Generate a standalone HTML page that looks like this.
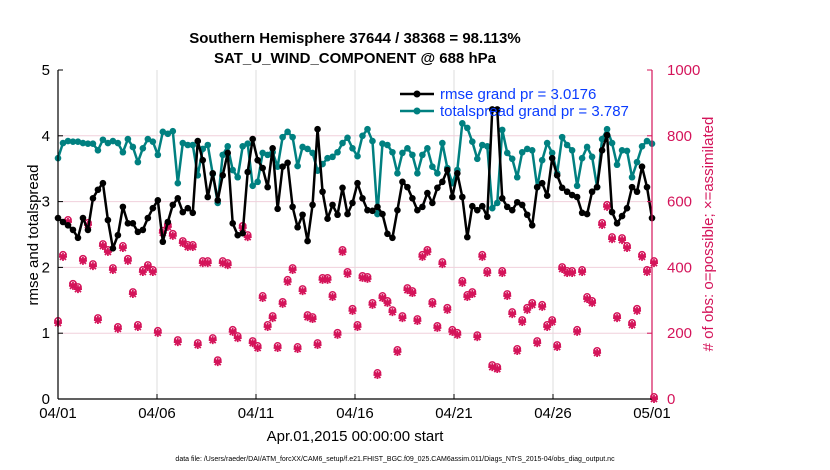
<!DOCTYPE html>
<html><head><meta charset="utf-8">
<style>
body{margin:0;background:#fff;width:830px;height:470px;overflow:hidden;font-family:"Liberation Sans",sans-serif;}
svg{display:block}
</style></head>
<body>
<svg id="chart" width="830" height="470" xmlns="http://www.w3.org/2000/svg">
<text x="355" y="43" text-anchor="middle" font-size="15" font-weight="bold">Southern Hemisphere 37644 / 38368 = 98.113%</text>
<text x="355" y="63" text-anchor="middle" font-size="15" font-weight="bold">SAT_U_WIND_COMPONENT @ 688 hPa</text>
<g id="grid"></g>
<g id="obs"></g>
<g id="lines"></g>
<g id="axes"></g>
<g>
<g>
<line x1="400" y1="94" x2="434" y2="94" stroke="#000" stroke-width="2.5"/>
<circle cx="417" cy="94" r="3.5" fill="#000"/>
<text x="440" y="99" font-size="15" fill="#0a3cff">rmse grand pr = 3.0176</text></g>
<g>
<line x1="400" y1="111" x2="434" y2="111" stroke="#008080" stroke-width="2.5"/>
<circle cx="417" cy="111" r="3.5" fill="#008080"/>
<text x="440" y="116" font-size="15" fill="#0a3cff">totalspread grand pr = 3.787</text></g>
</g>
<text transform="translate(38,235) rotate(-90)" text-anchor="middle" font-size="15">rmse and totalspread</text>
<text transform="translate(713,234) rotate(-90)" text-anchor="middle" font-size="15" fill="#d4145a"># of obs: o=possible; ×=assimilated</text>
<text x="355" y="441" text-anchor="middle" font-size="15">Apr.01,2015 00:00:00 start</text>
<text x="395" y="461" text-anchor="middle" font-size="7">data file: /Users/raeder/DAI/ATM_forcXX/CAM6_setup/f.e21.FHIST_BGC.f09_025.CAM6assim.011/Diags_NTrS_2015-04/obs_diag_output.nc</text>
</svg>
<script>
const xTickLabels = ["04/01","04/06","04/11","04/16","04/21","04/26","05/01"];
const xTickDays = [0,5,10,15,20,25,30];
const leftTicks = [0,1,2,3,4,5];
const rightTicks = [0,200,400,600,800,1000];
const rmse = [2.75,2.69,2.64,2.57,2.45,2.75,2.57,3.05,3.18,3.28,2.72,2.29,2.49,2.92,2.67,2.67,2.54,2.57,2.75,2.90,3.02,2.39,2.69,2.95,3.05,2.84,2.90,2.83,3.92,3.63,3.07,3.43,3.02,3.40,3.74,2.67,2.49,2.52,3.45,3.95,3.63,
3.51,3.22,3.81,2.89,3.53,3.59,2.92,2.61,2.80,2.40,2.95,4.10,3.15,2.74,2.95,2.80,3.21,2.81,2.98,3.28,3.05,2.87,2.86,2.92,2.81,2.51,2.45,2.87,3.30,3.22,3.05,2.87,2.92,3.13,2.98,3.21,3.30,3.48,3.07,
3.43,3.07,2.46,2.93,2.87,2.93,2.77,4.40,4.40,3.05,2.92,2.87,2.99,2.95,2.80,2.64,3.22,3.28,3.09,3.66,3.40,3.21,3.15,3.10,3.07,2.83,2.81,3.15,3.22,3.78,4.01,2.84,2.67,2.78,2.90,3.22,3.15,3.53,3.22,2.75];
const totalspread = [3.66,3.89,3.92,3.91,3.91,3.89,3.88,3.88,3.78,3.94,3.89,3.92,3.89,3.75,3.95,3.83,3.60,3.81,3.95,3.91,3.71,4.06,4.03,4.07,3.28,3.89,3.86,3.86,3.40,3.80,3.86,3.42,2.98,3.71,3.84,3.48,3.37,3.84,3.88,3.24,3.30,
3.74,3.71,3.75,3.53,3.98,4.06,3.98,3.54,3.83,3.80,3.74,3.47,3.57,3.66,3.68,3.75,3.89,3.97,3.81,3.69,4.00,4.10,3.92,2.81,3.88,3.86,3.75,3.43,3.74,3.81,3.71,3.43,3.71,3.81,3.53,3.43,3.89,3.51,3.28,
3.48,4.19,4.12,3.91,3.65,3.86,3.84,2.90,2.98,4.09,3.74,3.65,3.37,3.75,3.80,3.78,3.22,3.63,3.89,3.74,3.43,3.98,3.86,3.78,3.24,3.66,3.83,3.68,3.22,3.95,4.10,3.89,3.56,3.78,3.77,3.37,3.60,3.84,3.92,3.88];
const obsCount = [231,432,538,344,334,420,529,404,240,465,447,392,213,459,420,319,219,386,401,386,201,505,523,496,173,474,462,462,164,413,413,179,112,413,407,204,185,520,492,170,155,
307,219,246,155,289,356,392,152,328,249,243,164,362,362,310,195,447,380,268,219,368,365,286,73,307,292,264,143,246,331,322,237,432,447,289,216,410,271,204,
195,353,310,319,188,432,383,97,91,383,313,258,146,234,271,286,170,280,219,234,158,395,383,383,204,386,304,292,140,529,584,486,246,483,459,225,268,432,386,413,0];

const NS="http://www.w3.org/2000/svg";
const X0=58,X1=652,Y0=399,Y1=70;
const xDay=d=>X0+d*(X1-X0)/30;
const xIdx=i=>X0+i*(X1-X0)/119;
const yL=v=>Y0-v*(Y0-Y1)/5;
const yR=n=>Y0-n*(Y0-Y1)/1000;
const MAG="#d4145a";
function mk(tag,attrs,parent){const e=document.createElementNS(NS,tag);for(const k in attrs)e.setAttribute(k,attrs[k]);parent.appendChild(e);return e;}
const grid=document.getElementById('grid'),axes=document.getElementById('axes'),obs=document.getElementById('obs'),lines=document.getElementById('lines');

xTickDays.forEach((d,i)=>{
  if(i>0&&i<xTickDays.length-1){const g=mk('line',{x1:xDay(d),x2:xDay(d),y1:Y1,y2:Y0,stroke:'#dcdcdc','stroke-width':1},grid);
  
  }
  const t=mk('text',{x:xDay(d),y:Y0+19,'text-anchor':'middle','font-size':15},axes);
  t.textContent=xTickLabels[i];
  
  
  mk('line',{x1:xDay(d),x2:xDay(d),y1:Y0,y2:Y0-5,stroke:'#000'},axes);
});
rightTicks.forEach(n=>{
  if(n>0&&n<1000){const g=mk('line',{x1:X0,x2:X1,y1:yR(n),y2:yR(n),stroke:'#f0d0dc','stroke-width':1},grid);
  
  }
  const t=mk('text',{x:X1+15,y:yR(n)+5,'font-size':15,fill:MAG},axes);
  t.textContent=n;
  
  
  mk('line',{x1:X1,x2:X1-5,y1:yR(n),y2:yR(n),stroke:MAG},axes);
});
leftTicks.forEach(v=>{
  const t=mk('text',{x:X0-8,y:yL(v)+5,'text-anchor':'end','font-size':15},axes);
  t.textContent=v;
  
  
  mk('line',{x1:X0,x2:X0+5,y1:yL(v),y2:yL(v),stroke:'#000'},axes);
});
mk('line',{x1:X0,x2:X0,y1:Y1,y2:Y0,stroke:'#000','stroke-width':1.2},axes);
mk('line',{x1:X0,x2:X1,y1:Y0,y2:Y0,stroke:'#000','stroke-width':1.2},axes);
mk('line',{x1:X1,x2:X1,y1:Y1,y2:Y0,stroke:MAG,'stroke-width':1.2},axes);

obsCount.forEach((n,i)=>{
  const x=i<119?xIdx(i):X1+2,y=yR(n);
  const g=mk('g',{},obs);
  
  
  mk('circle',{cx:x,cy:y-2,r:3.2,fill:'none',stroke:MAG,'stroke-width':1.5},g);
  mk('path',{d:`M${x-4} ${y}H${x+4}M${x} ${y-4}V${y+4}M${x-3} ${y-3}L${x+3} ${y+3}M${x-3} ${y+3}L${x+3} ${y-3}`,stroke:MAG,'stroke-width':1.8},g);
});

function series(vals,color,name){
  const pts=vals.map((v,i)=>xIdx(i)+','+yL(v)).join(' ');
  const pl=mk('polyline',{points:pts,fill:'none',stroke:color,'stroke-width':2.5,'stroke-linejoin':'round'},lines);
  
  
  vals.forEach((v,i)=>{
    const c=mk('circle',{cx:xIdx(i),cy:yL(v),r:3.3,fill:color},lines);
    
    
  });
}
series(totalspread,'#008080','totalspread');
series(rmse,'#000000','rmse');
</script>
</body></html>
